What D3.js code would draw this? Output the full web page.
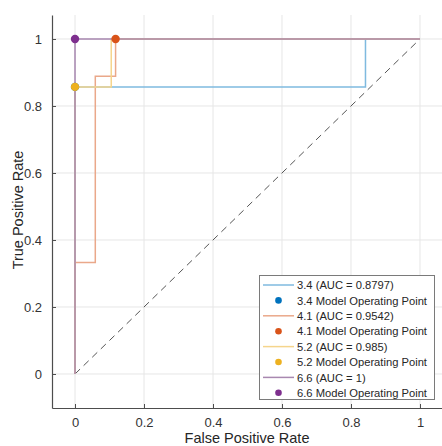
<!DOCTYPE html>
<html><head><meta charset="utf-8">
<script src="https://cdn.jsdelivr.net/npm/d3@7"></script>
<style>body{margin:0;background:#fff;} svg{display:block;font-family:Arial,"Liberation Sans",sans-serif;}</style>
</head><body>
<svg id="chart" width="442" height="446"></svg>
<script>
const seriesNames = ["3.4", "4.1", "5.2", "6.6"];
const aucValues = ["0.8797", "0.9542", "0.985", "1"];
const pointColors = ["#0072BD", "#D95319", "#EDB120", "#7E2F8E"];
const lineColors = ["#7fbadf", "#eaa88a", "#f5d58c", "#a888b0"];
const fpr34 = [0, 0, 0.842, 0.842, 1];
const tpr34 = [0, 0.857, 0.857, 1, 1];
const fpr41 = [0, 0, 0.0588, 0.0588, 0.1176, 0.1176, 1];
const tpr41 = [0, 0.333, 0.333, 0.889, 0.889, 1, 1];
const fpr52 = [0, 0, 0.105, 0.105, 1];
const tpr52 = [0, 0.857, 0.857, 1, 1];
const fpr66 = [0, 0, 1];
const tpr66 = [0, 1, 1];
const opFpr = [0, 0.1176, 0, 0];
const opTpr = [0.857, 1, 0.857, 1];
const xTicks = [0, 0.2, 0.4, 0.6, 0.8, 1];
const yTicks = [0, 0.2, 0.4, 0.6, 0.8, 1];
const xTickLabels = ["0", "0.2", "0.4", "0.6", "0.8", "1"];
const yTickLabels = ["0", "0.2", "0.4", "0.6", "0.8", "1"];

const curves = [[fpr34, tpr34], [fpr41, tpr41], [fpr52, tpr52], [fpr66, tpr66]];

const svg = d3.select("#chart");
const L = 52, R = 443, T = 15, B = 408;
const x = d3.scaleLinear().domain([-0.0667, 1.0667]).range([L, R]);
const y = d3.scaleLinear().domain([-0.1015, 1.0716]).range([B, T]);

// grid
const g = svg.append("g");
g.selectAll(".gx").data(xTicks).join("line")
  .attr("x1", d => x(d)).attr("x2", d => x(d)).attr("y1", T).attr("y2", B)
  .attr("stroke", "#e6e6e6").attr("stroke-width", 1);
g.selectAll(".gy").data(yTicks).join("line")
  .attr("x1", L).attr("x2", R).attr("y1", d => y(d)).attr("y2", d => y(d))
  .attr("stroke", "#e6e6e6").attr("stroke-width", 1);

// diagonal
svg.append("line").attr("x1", x(0)).attr("y1", y(0)).attr("x2", x(1)).attr("y2", y(1))
  .attr("stroke", "#555").attr("stroke-width", 1).attr("stroke-dasharray", "7,5");

// curves
const line = d3.line().x(d => x(d[0])).y(d => y(d[1]));
curves.forEach((c, i) => {
  const pts = c[0].map((v, k) => [v, c[1][k]]);
  svg.append("path").attr("d", line(pts)).attr("fill", "none")
    .attr("stroke", lineColors[i]).attr("stroke-width", 1.5);
});
// operating points
seriesNames.forEach((s, i) => {
  svg.append("circle").attr("cx", x(opFpr[i])).attr("cy", y(opTpr[i])).attr("r", 4.2)
    .attr("fill", pointColors[i]);
});

// axes
const xAxis = d3.axisBottom(x).tickValues(xTicks).tickFormat((d, i) => xTickLabels[i]).tickSizeInner(-4).tickSizeOuter(0).tickPadding(10);
const yAxis = d3.axisLeft(y).tickValues(yTicks).tickFormat((d, i) => yTickLabels[i]).tickSizeInner(-4).tickSizeOuter(0).tickPadding(10);
const gx = svg.append("g").attr("transform", `translate(0,${B})`).call(xAxis);
const gy = svg.append("g").attr("transform", `translate(${L},0)`).call(yAxis);
[gx, gy].forEach(a => {
  a.select(".domain").attr("stroke", "#4d4d4d").attr("stroke-width", 1.2);
  a.selectAll(".tick line").attr("stroke", "#4d4d4d");
  a.selectAll(".tick text").attr("fill", "#333").attr("font-size", 13).attr("font-family", "Arial, 'Liberation Sans', sans-serif");
});

svg.append("text").attr("x", 247).attr("y", 443).attr("text-anchor", "middle")
  .attr("font-size", 14.5).attr("fill", "#262626").text("False Positive Rate");
svg.append("text").attr("transform", `translate(23,210) rotate(-90)`).attr("text-anchor", "middle")
  .attr("font-size", 14.5).attr("fill", "#262626").text("True Positive Rate");

// legend
const lg = svg.append("g");
lg.append("rect").attr("x", 259.5).attr("y", 275.5).attr("width", 175).attr("height", 124)
  .attr("fill", "#fff").attr("stroke", "#7a7a7a").attr("stroke-width", 1);
seriesNames.forEach((s, i) => {
  const y1 = 285 + i * 2 * 15.4, y2 = y1 + 15.4;
  lg.append("line").attr("x1", 263).attr("x2", 294).attr("y1", y1).attr("y2", y1)
    .attr("stroke", lineColors[i]).attr("stroke-width", 1.5);
  lg.append("text").attr("x", 297).attr("y", y1 + 4.2).attr("font-size", 11.2).attr("fill", "#262626")
    .text(`${s} (AUC = ${aucValues[i]})`);
  lg.append("circle").attr("cx", 278.5).attr("cy", y2).attr("r", 3.3).attr("fill", pointColors[i]);
  lg.append("text").attr("x", 297).attr("y", y2 + 4.2).attr("font-size", 11.2).attr("fill", "#262626")
    .text(`${s} Model Operating Point`);
});
</script>
</body></html>
